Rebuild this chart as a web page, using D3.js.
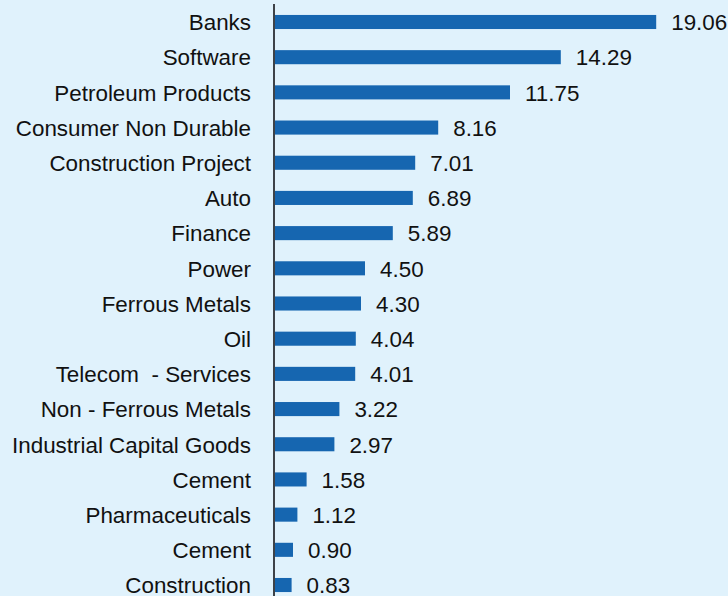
<!DOCTYPE html>
<html>
<head>
<meta charset="utf-8">
<script src="https://cdn.jsdelivr.net/npm/d3@7"></script>
<style>
  html, body { margin: 0; padding: 0; background: #e0f2fc; }
  svg { display: block; }
  text { font-family: "Liberation Sans", Arial, sans-serif; white-space: pre; }
</style>
</head>
<body>
<svg id="chart" width="728" height="596"></svg>
<script>
// Sector allocation (% of net assets)
const sectors = [
  "Banks", "Software", "Petroleum Products", "Consumer Non Durable",
  "Construction Project", "Auto", "Finance", "Power", "Ferrous Metals",
  "Oil", "Telecom  - Services", "Non - Ferrous Metals",
  "Industrial Capital Goods", "Cement", "Pharmaceuticals", "Cement",
  "Construction"
];
const weights = [
  19.06, 14.29, 11.75, 8.16, 7.01, 6.89, 5.89, 4.50, 4.30,
  4.04, 4.01, 3.22, 2.97, 1.58, 1.12, 0.90, 0.83
];
const valueLabels = [
  "19.06", "14.29", "11.75", "8.16", "7.01", "6.89", "5.89", "4.50", "4.30",
  "4.04", "4.01", "3.22", "2.97", "1.58", "1.12", "0.90", "0.83"
];

const rows = sectors.map((name, i) => ({ i, name, value: weights[i], label: valueLabels[i] }));

const svg = d3.select("#chart");
const W = 728, H = 596;

svg.append("rect").attr("width", W).attr("height", H).attr("fill", "#e0f2fc");

const x = d3.scaleLinear().domain([0, 20]).range([275, 675]);
const y = d3.scaleBand()
  .domain(rows.map(d => d.i))
  .range([4.4, 602.6])
  .paddingInner(0.6)
  .paddingOuter(0.3);

// bars
svg.append("g").selectAll("rect")
  .data(rows)
  .join("rect")
  .attr("x", x(0))
  .attr("y", d => y(d.i))
  .attr("width", d => x(d.value) - x(0))
  .attr("height", y.bandwidth())
  .attr("fill", "#1666b0");

// category labels
svg.append("g").selectAll("text")
  .data(rows)
  .join("text")
  .attr("x", 251)
  .attr("y", d => y(d.i) + y.bandwidth() / 2)
  .attr("dy", "0.37em")
  .attr("text-anchor", "end")
  .attr("font-size", 22.4)
  .attr("fill", "#111")
  .text(d => d.name);

// value labels
svg.append("g").selectAll("text")
  .data(rows)
  .join("text")
  .attr("x", d => x(d.value) + 15)
  .attr("y", d => y(d.i) + y.bandwidth() / 2)
  .attr("dy", "0.37em")
  .attr("font-size", 22.4)
  .attr("fill", "#111")
  .text(d => d.label);

// vertical category axis line
svg.append("line")
  .attr("x1", 274).attr("x2", 274)
  .attr("y1", 4).attr("y2", H)
  .attr("stroke", "#3d4248")
  .attr("stroke-width", 2);
</script>
</body>
</html>
